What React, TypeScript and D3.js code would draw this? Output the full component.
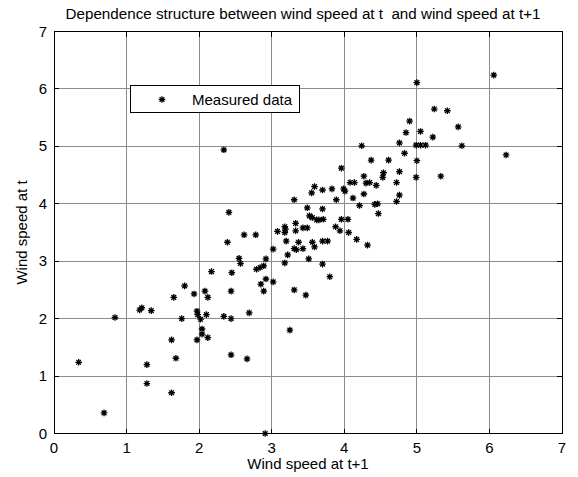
import React from "react";
import * as d3 from "d3";

// Wind speed at t+1 (x) against wind speed at t (y)
const speedNext: number[] = [
  0.34, 0.69, 0.84, 1.18, 1.21, 1.34, 1.28, 1.28, 1.62, 1.62,
  1.68, 1.65, 1.76, 1.80, 1.93, 1.97, 1.98, 2.02, 1.97, 2.04,
  2.04, 2.12, 2.08, 2.12, 2.10, 2.17, 2.34, 2.44, 2.44, 2.45,
  2.44, 2.55, 2.57, 2.66, 2.69, 2.41, 2.39, 2.62, 2.78, 2.79,
  2.84, 2.89, 2.92, 3.02, 2.92, 2.85, 2.89, 3.02, 3.25, 3.31,
  3.47, 3.18, 3.22, 3.08, 3.18, 3.19, 3.33, 3.33, 3.43, 3.49,
  3.31, 3.20, 3.37, 3.31, 3.34, 3.43, 3.51, 3.56, 3.59, 3.70,
  3.80, 3.70, 3.77, 3.49, 3.52, 3.56, 3.62, 3.65, 3.71, 3.70,
  3.55, 3.59, 3.70, 3.83, 3.89, 3.99, 3.88, 3.94, 3.96, 4.05,
  4.06, 4.90, 4.85, 5.05, 5.22, 4.24, 4.76, 4.99, 5.05, 5.12,
  4.83, 4.37, 4.61, 5.00, 3.96, 4.76, 4.54, 4.53, 4.27, 4.99,
  5.33, 4.72, 4.08, 4.14, 4.30, 4.35, 4.44, 4.01, 4.27, 4.76,
  4.12, 4.21, 4.42, 4.46, 4.72, 4.47, 4.17, 4.32, 5.00, 6.06,
  5.24, 5.42, 5.57, 5.62, 6.23, 2.34, 2.91, 3.18,
];
const speedNow: number[] = [
  1.24, 0.36, 2.02, 2.15, 2.19, 2.14, 1.20, 0.87, 0.71, 1.63,
  1.31, 2.37, 2.00, 2.57, 2.43, 2.13, 2.07, 1.99, 1.63, 1.82,
  1.73, 1.67, 2.48, 2.37, 2.07, 2.82, 2.04, 2.00, 2.48, 2.80,
  1.37, 3.05, 2.96, 1.30, 2.10, 3.85, 3.33, 3.46, 3.46, 2.86,
  2.89, 2.92, 3.04, 3.21, 2.69, 2.60, 2.48, 2.64, 1.80, 2.50,
  2.41, 2.97, 3.11, 3.52, 3.60, 3.56, 3.66, 3.53, 3.58, 3.58,
  4.07, 3.35, 3.33, 3.22, 3.20, 3.22, 3.04, 3.33, 3.25, 2.95,
  2.73, 3.35, 3.35, 3.93, 3.79, 3.76, 3.72, 3.72, 3.73, 3.91,
  4.19, 4.30, 4.24, 4.26, 4.07, 4.26, 3.60, 3.53, 3.73, 3.73,
  3.50, 5.44, 5.24, 5.26, 5.16, 5.01, 5.06, 5.02, 5.02, 5.02,
  4.88, 4.76, 4.76, 4.75, 4.62, 4.56, 4.54, 4.46, 4.48, 4.46,
  4.48, 4.37, 4.37, 4.37, 4.36, 4.37, 4.32, 4.22, 4.17, 4.15,
  4.10, 3.97, 3.99, 4.00, 4.04, 3.83, 3.38, 3.28, 6.11, 6.24,
  5.65, 5.62, 5.34, 5.01, 4.85, 4.94, 0.00, 3.50,
];

const axisTicks: number[] = [0, 1, 2, 3, 4, 5, 6, 7];

const titleText = "Dependence structure between wind speed at t  and wind speed at t+1";
const xLabelText = "Wind speed at t+1";
const yLabelText = "Wind speed at t";
const legendText = "Measured data";

const W = 578;
const H = 477;
const left = 54;
const right = 562;
const top = 31.5;
const bottom = 433.5;
const FONT = "'Liberation Sans', Arial, Helvetica, sans-serif";
const FS = 15;

// MATLAB-style '*' marker
function asterisk(cx: number, cy: number, r = 3.3) {
  const d = r * 0.72;
  return (
    `M${cx - r},${cy}L${cx + r},${cy}` +
    `M${cx},${cy - r}L${cx},${cy + r}` +
    `M${cx - d},${cy - d}L${cx + d},${cy + d}` +
    `M${cx - d},${cy + d}L${cx + d},${cy - d}`
  );
}

export default function App() {
  const x = d3.scaleLinear().domain([0, 7]).range([left, right]);
  const y = d3.scaleLinear().domain([0, 7]).range([bottom, top]);
  const points = speedNext.map((v, i) => [v, speedNow[i]] as [number, number]);
  const tickLen = 5;

  return (
    <svg
      width={W}
      height={H}
      style={{ position: "absolute", left: 0, top: 0, background: "#fff" }}
      fontFamily={FONT}
    >
      <rect x={0} y={0} width={W} height={H} fill="#fff" />
      {/* grid */}
      <g stroke="#8c8c8c" strokeWidth={1} shapeRendering="crispEdges">
        {axisTicks.slice(1, -1).map((t) => (
          <line key={"gx" + t} x1={x(t)} x2={x(t)} y1={top} y2={bottom} />
        ))}
        {axisTicks.slice(1, -1).map((t) => (
          <line key={"gy" + t} x1={left} x2={right} y1={y(t)} y2={y(t)} />
        ))}
      </g>
      {/* ticks on all four sides */}
      <g stroke="#000" strokeWidth={1} shapeRendering="crispEdges">
        {axisTicks.map((t) => (
          <g key={"t" + t}>
            <line x1={x(t)} x2={x(t)} y1={bottom} y2={bottom - tickLen} />
            <line x1={x(t)} x2={x(t)} y1={top} y2={top + tickLen} />
            <line x1={left} x2={left + tickLen} y1={y(t)} y2={y(t)} />
            <line x1={right} x2={right - tickLen} y1={y(t)} y2={y(t)} />
          </g>
        ))}
      </g>
      {/* data */}
      <path
        d={points.map((p) => asterisk(x(p[0]), y(p[1]))).join("")}
        stroke="#000"
        strokeWidth={1.3}
        fill="none"
      />
      {/* axes box */}
      <rect
        x={left}
        y={top}
        width={right - left}
        height={bottom - top}
        fill="none"
        stroke="#000"
        strokeWidth={1}
        shapeRendering="crispEdges"
      />
      {/* tick labels */}
      <g fontSize={FS} fill="#000">
        {axisTicks.map((t) => (
          <text key={"xl" + t} x={x(t)} y={bottom + 19} textAnchor="middle">
            {t}
          </text>
        ))}
        {axisTicks.map((t) => (
          <text key={"yl" + t} x={left - 7} y={y(t) + 5} textAnchor="end">
            {t}
          </text>
        ))}
      </g>
      {/* titles */}
      <text
        x={(left + right) / 2 - 5}
        y={18.5}
        fontSize={15.2}
        textAnchor="middle"
        style={{ whiteSpace: "pre" }}
      >
        {titleText}
      </text>
      <text x={(left + right) / 2} y={469} fontSize={FS} textAnchor="middle">
        {xLabelText}
      </text>
      <text
        transform={`translate(27,${(top + bottom) / 2}) rotate(-90)`}
        fontSize={FS}
        textAnchor="middle"
      >
        {yLabelText}
      </text>
      {/* legend */}
      <rect
        x={130}
        y={85.5}
        width={169}
        height={27}
        fill="#fff"
        stroke="#000"
        strokeWidth={1}
        shapeRendering="crispEdges"
      />
      <path d={asterisk(162, 99.5)} stroke="#000" strokeWidth={1.3} fill="none" />
      <text x={192} y={105} fontSize={FS}>
        {legendText}
      </text>
    </svg>
  );
}
